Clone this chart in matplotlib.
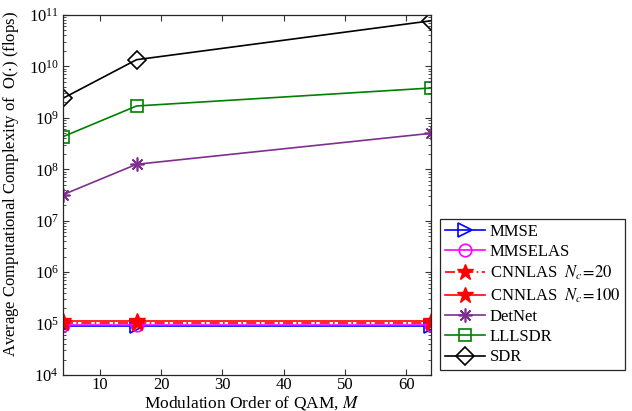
import matplotlib
matplotlib.use("Agg")
import matplotlib.pyplot as plt
from matplotlib.ticker import LogLocator, FixedLocator, NullFormatter

plt.rcParams['font.family'] = ['Liberation Serif', 'DejaVu Serif']
plt.rcParams['mathtext.fontset'] = 'stix'

M = [4, 16, 64]
mmse = [9.0e4, 9.0e4, 9.0e4]
mmselas = [9.3e4, 9.3e4, 9.3e4]
cnnlas20 = [1.03e5, 1.03e5, 1.03e5]
cnnlas100 = [1.1e5, 1.1e5, 1.1e5]
detnet = [3.2e7, 1.25e8, 5.0e8]
lllsdr = [4.3e8, 1.7e9, 3.8e9]
sdr = [2.4e9, 1.35e10, 7.7e10]

fig = plt.figure(figsize=(6.32, 4.11), dpi=100)
ax = fig.add_axes([0.0997, 0.0876, 0.582, 0.876])

lw = 1.2
ax.plot(M, mmse, color='#0000FF', marker='>', mfc='none', ms=10, mew=1.2, lw=lw, label='MMSE')
ax.plot(M, mmselas, color='#FF00FF', marker='o', mfc='none', ms=9, mew=1.2, lw=lw, label='MMSELAS')
ax.plot(M, cnnlas20, color='#FF0000', marker='*', mfc='#FF0000', ms=12, mew=1.0, lw=lw,
        ls=(0, (6, 2, 1, 2)), label=r'CNNLAS  $\mathit{N_c\!=\!20}$')
ax.plot(M, cnnlas100, color='#FF0000', marker='*', mfc='#FF0000', ms=12, mew=1.0, lw=lw,
        label=r'CNNLAS  $\mathit{N_c\!=\!100}$')
ax.plot(M, detnet, color='#7E2F8E', marker=(8, 2, 0), ms=10, mew=1.2, lw=lw, label='DetNet')
ax.plot(M, lllsdr, color='#008000', marker='s', mfc='none', ms=8, mew=1.2, lw=lw, label='LLLSDR')
ax.plot(M, sdr, color='#000000', marker='D', mfc='none', ms=9, mew=1.2, lw=lw, label='SDR')

ax.set_yscale('log')
ax.set_xlim(4, 64)
ax.set_ylim(1e4, 1e11)
ax.xaxis.set_major_locator(FixedLocator([10, 20, 30, 40, 50, 60]))
ax.yaxis.set_major_locator(LogLocator(base=10, numticks=20))
ax.yaxis.set_minor_locator(LogLocator(base=10, subs=range(2, 10), numticks=20))
ax.yaxis.set_minor_formatter(NullFormatter())
ax.tick_params(which='both', direction='in', top=True, right=True, labelsize=12, color='#333333')
ax.tick_params(axis='x', pad=1.5)
ax.tick_params(axis='y', pad=3)
ax.tick_params(which='major', length=4)
ax.tick_params(which='minor', length=2)
for s in ax.spines.values():
    s.set_color('#262626')
    s.set_linewidth(0.9)

ax.set_xlabel(r'Modulation Order of QAM, $\mathit{M}$', fontsize=12.5, labelpad=0)
ax.xaxis.set_label_coords(0.513, -0.053, transform=ax.transAxes)
ax.xaxis.label.set_va('top')
ax.set_ylabel(r'Average Computational Complexity of  O($\cdot$) (flops)', fontsize=12)
ax.yaxis.set_label_coords(-0.113, 0.53, transform=ax.transAxes)

leg = fig.legend(loc='upper left', bbox_to_anchor=(0.696, 0.468), fontsize=12,
                 fancybox=False, edgecolor='#262626', framealpha=1,
                 borderaxespad=0, handlelength=2.4, labelspacing=0.25,
                 handletextpad=0.3, borderpad=0.3)
leg.get_frame().set_linewidth(0.9)

fig.savefig('out.png', dpi=100)
